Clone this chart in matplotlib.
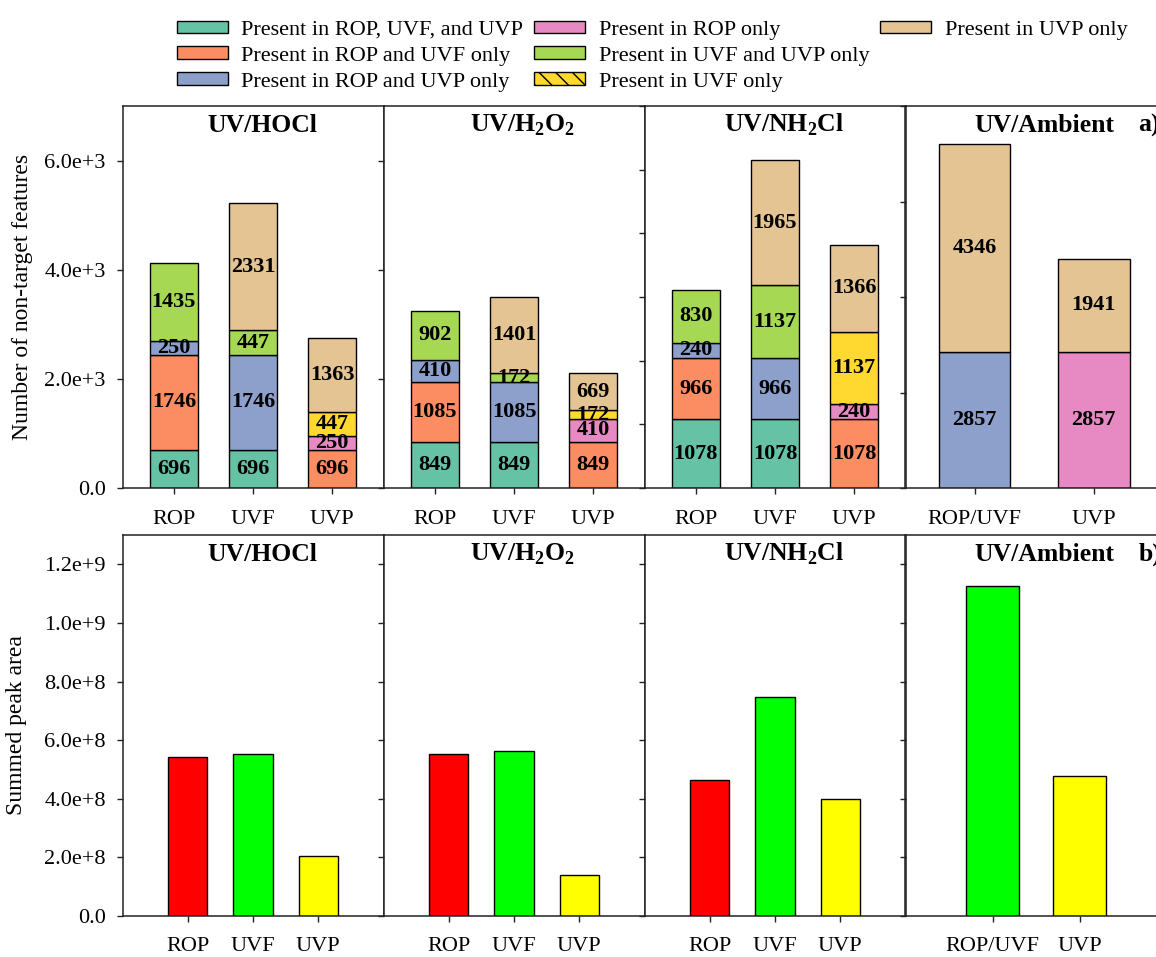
import numpy as np
import matplotlib.pyplot as plt
from matplotlib.patches import Patch
from matplotlib.ticker import FuncFormatter, MultipleLocator

plt.rcParams['font.family'] = ['Liberation Serif', 'DejaVu Serif']
plt.rcParams['mathtext.fontset'] = 'custom'
plt.rcParams['mathtext.rm'] = 'Liberation Serif'
plt.rcParams['mathtext.bf'] = 'Liberation Serif:bold'

# legend categories (in legend order, column by column)
categories = ['Present in ROP, UVF, and UVP', 'Present in ROP and UVF only',
              'Present in ROP and UVP only', 'Present in ROP only',
              'Present in UVF and UVP only', 'Present in UVF only',
              'Present in UVP only']
cat_colors = ['#66c2a5', '#fc8d62', '#8da0cb', '#e78ac3', '#a6d854', '#ffd92f', '#e5c494']

treatments = ['UV/HOCl', r'UV/H$_\mathbf{2}$O$_\mathbf{2}$', r'UV/NH$_\mathbf{2}$Cl', 'UV/Ambient']

# number of non-target features, stacked bottom -> top
hocl_samples = ['ROP', 'UVF', 'UVP']
hocl_cats = [[0, 1, 2, 4], [0, 2, 4, 6], [1, 3, 5, 6]]
hocl_counts = [[696, 1746, 250, 1435], [696, 1746, 447, 2331], [696, 250, 447, 1363]]

h2o2_samples = ['ROP', 'UVF', 'UVP']
h2o2_cats = [[0, 1, 2, 4], [0, 2, 4, 6], [1, 3, 5, 6]]
h2o2_counts = [[849, 1085, 410, 902], [849, 1085, 172, 1401], [849, 410, 172, 669]]

nh2cl_samples = ['ROP', 'UVF', 'UVP']
nh2cl_cats = [[0, 1, 2, 4], [0, 2, 4, 6], [1, 3, 5, 6]]
nh2cl_counts = [[1078, 966, 240, 830], [1078, 966, 1137, 1965], [1078, 240, 1137, 1366]]

amb_samples = ['ROP/UVF', 'UVP']
amb_cats = [[2, 6], [3, 6]]
amb_counts = [[2857, 4346], [2857, 1941]]

# summed peak area
hocl_area = [5.43e8, 5.53e8, 2.04e8]
h2o2_area = [5.53e8, 5.63e8, 1.41e8]
nh2cl_area = [4.63e8, 7.48e8, 4.00e8]
amb_area = [1.127e9, 4.78e8]
area_colors = {'ROP': '#ff0000', 'UVF': '#00ff00', 'ROP/UVF': '#00ff00', 'UVP': '#ffff00'}

count_panels = [(hocl_samples, hocl_cats, hocl_counts),
                (h2o2_samples, h2o2_cats, h2o2_counts),
                (nh2cl_samples, nh2cl_cats, nh2cl_counts),
                (amb_samples, amb_cats, amb_counts)]
area_panels = [(hocl_samples, hocl_area), (h2o2_samples, h2o2_area),
               (nh2cl_samples, nh2cl_area), (amb_samples, amb_area)]

top_ylim = [7000, 7000, 6000, 8000]
top_step = [2000, 2000, 1000, 2000]


def sci_fmt(v, pos):
    if v == 0:
        return '0.0'
    e = int(np.floor(np.log10(abs(v)) + 1e-9))
    return f'{v / 10**e:.1f}e+{e}'


W, H = 1156, 957
fig = plt.figure(figsize=(W / 100, H / 100), dpi=100)

lefts = [122.5 + 261 * i for i in range(4)]
pw = 261
top_axes = [fig.add_axes([l / W, (H - 488) / H, pw / W, 382 / H]) for l in lefts]
bot_axes = [fig.add_axes([l / W, (H - 916) / H, pw / W, 381 / H]) for l in lefts]


def style(ax, xpad):
    for s in ax.spines.values():
        s.set_linewidth(1.1)
        s.set_color('#222222')
    ax.tick_params(axis='both', direction='out', length=4, width=1, labelsize=16, color='#222222')
    ax.tick_params(axis='x', pad=xpad)
    ax.tick_params(axis='y', pad=8)


# top row: stacked counts
for i, (ax, (samples, cats, counts)) in enumerate(zip(top_axes, count_panels)):
    x = np.arange(len(samples))
    nlev = len(counts[0])
    bottoms = np.zeros(len(samples))
    for j in range(nlev):
        vals = [c[j] for c in counts]
        cols = [cat_colors[c[j]] for c in cats]
        bc = ax.bar(x, vals, 0.6, bottom=bottoms, color=cols, edgecolor='black', linewidth=1)
        ax.bar_label(bc, labels=[str(v) for v in vals], label_type='center',
                     fontsize=16, fontweight='bold')
        bottoms += vals
    ax.set_xticks(x)
    ax.set_xticklabels(samples)
    if len(samples) == 3:
        ax.set_xlim(-0.65, 2.65)
    else:
        ax.set_xlim(-0.58, 1.61)
    ax.set_ylim(0, top_ylim[i])
    ax.yaxis.set_major_locator(MultipleLocator(top_step[i]))
    if i == 0:
        ax.yaxis.set_major_formatter(FuncFormatter(sci_fmt))
    else:
        ax.set_yticklabels([])
    style(ax, 12)
    ax.text(0.534, 0.932, treatments[i], transform=ax.transAxes, ha='center',
            va='baseline', fontsize=18.5, fontweight='bold')

# bottom row: summed peak area
for i, (ax, (samples, area)) in enumerate(zip(bot_axes, area_panels)):
    x = np.arange(len(samples))
    ax.bar(x, area, 0.6, color=[area_colors[s] for s in samples], edgecolor='black', linewidth=1)
    ax.set_xticks(x)
    ax.set_xticklabels(samples)
    if len(samples) == 3:
        ax.set_xlim(-1, 3)
    else:
        ax.set_xlim(-1, 2)
    ax.set_ylim(0, 1.3e9)
    ax.yaxis.set_major_locator(MultipleLocator(2e8))
    if i == 0:
        ax.yaxis.set_major_formatter(FuncFormatter(sci_fmt))
    else:
        ax.set_yticklabels([])
    style(ax, 11)
    ax.text(0.534, 0.932, treatments[i], transform=ax.transAxes, ha='center',
            va='baseline', fontsize=18.5, fontweight='bold')

top_axes[3].text(0.893, 0.932, 'a)', transform=top_axes[3].transAxes, ha='left',
                 va='baseline', fontsize=18.5, fontweight='bold')
bot_axes[3].text(0.893, 0.932, 'b)', transform=bot_axes[3].transAxes, ha='left',
                 va='baseline', fontsize=18.5, fontweight='bold')

fig.text(23 / W, 1 - 297 / H, 'Number of non-target features', rotation=90,
         ha='center', va='center', fontsize=17)
fig.text(17 / W, 1 - 725.5 / H, 'Summed peak area', rotation=90,
         ha='center', va='center', fontsize=17)

handles = []
for k, lab in enumerate(categories):
    handles.append(Patch(facecolor=cat_colors[k], edgecolor='black', linewidth=1,
                         hatch='\\\\' if k == 5 else None, label=lab))
handles.append(Patch(facecolor='none', edgecolor='none', label=''))
fig.legend(handles=handles, ncol=3, loc='center', bbox_to_anchor=(652 / W, 1 - 56 / H),
           frameon=False, fontsize=16, handlelength=2.3, handleheight=0.5,
           handletextpad=0.6, columnspacing=0.5, labelspacing=0.3, borderpad=0)

fig.savefig('out.png', dpi=100)
